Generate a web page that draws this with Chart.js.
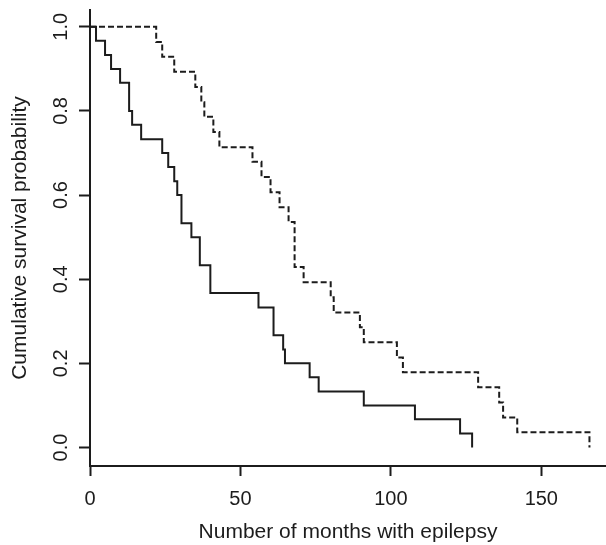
<!DOCTYPE html>
<html>
<head>
<meta charset="utf-8">
<script src="https://cdn.jsdelivr.net/npm/chart.js@4/dist/chart.umd.min.js"></script>
<style>
  html, body { margin: 0; padding: 0; background: #ffffff; }
  #wrap { width: 606px; height: 545px; }
</style>
</head>
<body>
<div id="wrap"><canvas id="c" width="606" height="545"></canvas></div>
<script>
// Kaplan-Meier curves
const solidMonths   = [0, 2, 5, 7, 10, 13, 14, 17, 24, 26, 28, 29, 30.4, 33.7, 36.5, 40, 56, 61, 64.2, 64.8, 73, 76, 91, 108, 123, 127];
const solidSurvival = [1.0, 0.967, 0.933, 0.9, 0.867, 0.8, 0.767, 0.733, 0.7, 0.667, 0.633, 0.6, 0.533, 0.5, 0.433, 0.367, 0.333, 0.267, 0.233, 0.2, 0.167, 0.133, 0.1, 0.067, 0.033, 0.0];

const dashedMonths   = [0, 22, 24, 28, 35, 37, 38, 41, 43, 54, 57, 60, 63, 66, 68, 71, 80, 81, 89.7, 91, 102, 104, 129, 136, 137.3, 142, 166];
const dashedSurvival = [1.0, 0.964, 0.929, 0.893, 0.857, 0.821, 0.786, 0.75, 0.714, 0.679, 0.643, 0.607, 0.571, 0.536, 0.429, 0.393, 0.357, 0.321, 0.286, 0.25, 0.214, 0.179, 0.143, 0.107, 0.071, 0.036, 0.0];

const xTickValues = [0, 50, 100, 150];
const yTickLabels = ['0.0', '0.2', '0.4', '0.6', '0.8', '1.0'];

const xTitle = 'Number of months with epilepsy';
const yTitle = 'Cumulative survival probability';

function pairs(xs, ys) { return xs.map((x, i) => ({ x: x, y: ys[i] })); }

const INK = '#1c1c1c';
const FONT = '"Liberation Sans", Arial, Helvetica, sans-serif';

new Chart(document.getElementById('c'), {
  type: 'line',
  data: {
    datasets: [
      {
        label: 'solid',
        data: pairs(solidMonths, solidSurvival),
        stepped: 'before',
        borderColor: INK,
        borderWidth: 2,
        pointRadius: 0,
        fill: false
      },
      {
        label: 'dashed',
        data: pairs(dashedMonths, dashedSurvival),
        stepped: 'before',
        borderColor: INK,
        borderWidth: 2,
        borderDash: [6, 3],
        pointRadius: 0,
        fill: false
      }
    ]
  },
  options: {
    responsive: false,
    animation: false,
    devicePixelRatio: 1,
    layout: { padding: { left: 0, right: 0, top: 10, bottom: 0 } },
    plugins: { legend: { display: false }, tooltip: { enabled: false } },
    scales: {
      x: {
        type: 'linear',
        min: 0,
        max: 171.5,
        afterFit: s => { s.height = 79; s.paddingLeft = 0; s.paddingRight = 0; },
        afterBuildTicks: s => { s.ticks = xTickValues.map(v => ({ value: v })); },
        ticks: {
          color: INK,
          font: { family: FONT, size: 20 },
          padding: 11,
          maxRotation: 0,
          autoSkip: false,
          callback: v => String(v)
        },
        grid: { display: true, drawOnChartArea: false, drawTicks: true, tickLength: 10, tickWidth: 2, color: INK },
        border: { display: true, color: INK, width: 2 },
        title: { display: true, text: xTitle, color: INK, font: { family: FONT, size: 21 }, padding: { top: 0, bottom: 0 } }
      },
      y: {
        type: 'linear',
        min: -0.044,
        max: 1.04,
        afterFit: s => { s.width = 90; s.paddingTop = 0; s.paddingBottom = 0; },
        afterBuildTicks: s => { s.ticks = yTickLabels.map(t => ({ value: parseFloat(t) })); },
        ticks: {
          color: INK,
          font: { family: FONT, size: 20 },
          minRotation: 90,
          maxRotation: 90,
          crossAlign: 'center',
          padding: 4,
          autoSkip: false,
          callback: (v) => { const i = yTickLabels.findIndex(t => Math.abs(parseFloat(t) - v) < 1e-9); return i >= 0 ? yTickLabels[i] : ''; }
        },
        grid: { display: true, drawOnChartArea: false, drawTicks: true, tickLength: 11, tickWidth: 2, color: INK },
        border: { display: true, color: INK, width: 2 },
        title: { display: true, text: yTitle, color: INK, font: { family: FONT, size: 21 }, padding: { top: 8, bottom: 0 } }
      }
    }
  }
});
</script>
</body>
</html>
